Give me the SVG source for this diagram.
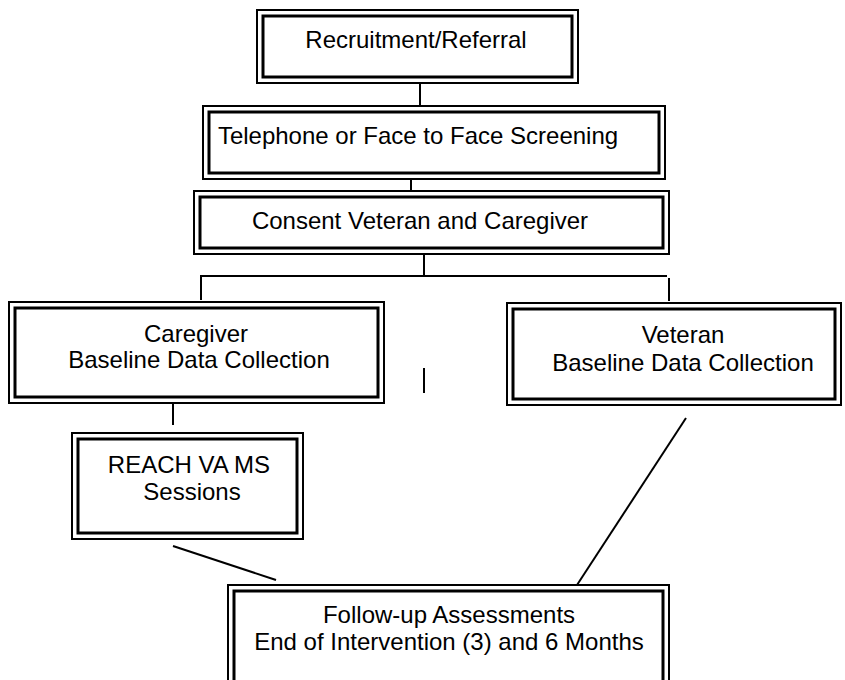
<svg xmlns="http://www.w3.org/2000/svg" width="845" height="680" viewBox="0 0 845 680">
  <style>
    .outer { fill: none; stroke: #000; stroke-width: 2; }
    .inner { fill: none; stroke: #000; stroke-width: 3; }
    .lbl { font-family: "Liberation Sans", Arial, sans-serif; font-size: 24px; fill: #000; text-anchor: middle; }
    .conn line { stroke: #000; stroke-width: 2; }
  </style>
  <rect width="845" height="680" fill="#fff"/>

  <g id="recruitment">
    <rect class="outer" x="257" y="10" width="321" height="73"/>
    <rect class="inner" x="263" y="16" width="309" height="61"/>
    <text class="lbl" x="416" y="48">Recruitment/Referral</text>
  </g>

  <g id="screening">
    <rect class="outer" x="203" y="106" width="462" height="73"/>
    <rect class="inner" x="209" y="112" width="450" height="61"/>
    <text class="lbl" x="418" y="144">Telephone or Face to Face Screening</text>
  </g>

  <g id="consent">
    <rect class="outer" x="194" y="191" width="475" height="63"/>
    <rect class="inner" x="200" y="197" width="463" height="51"/>
    <text class="lbl" x="420" y="229">Consent Veteran and Caregiver</text>
  </g>

  <g id="caregiver-baseline">
    <rect class="outer" x="9" y="302" width="375" height="101"/>
    <rect class="inner" x="15" y="308" width="363" height="89"/>
    <text class="lbl" x="196" y="342">Caregiver</text>
    <text class="lbl" x="199" y="368">Baseline Data Collection</text>
  </g>

  <g id="veteran-baseline">
    <rect class="outer" x="507" y="303" width="334" height="102"/>
    <rect class="inner" x="513" y="309" width="322" height="90"/>
    <text class="lbl" x="683" y="343">Veteran</text>
    <text class="lbl" x="683" y="371">Baseline Data Collection</text>
  </g>

  <g id="reach-sessions">
    <rect class="outer" x="72" y="433" width="231" height="106"/>
    <rect class="inner" x="78" y="439" width="219" height="94"/>
    <text class="lbl" x="189" y="473">REACH VA MS</text>
    <text class="lbl" x="192" y="500">Sessions</text>
  </g>

  <g id="follow-up">
    <rect class="outer" x="228" y="585" width="441" height="110"/>
    <rect class="inner" x="234" y="591" width="429" height="98"/>
    <text class="lbl" x="449" y="623">Follow-up Assessments</text>
    <text class="lbl" x="449" y="650">End of Intervention (3) and 6 Months</text>
  </g>

  <g id="connectors" class="conn">
    <line x1="420" y1="83" x2="420" y2="106"/>
    <line x1="411" y1="179" x2="411" y2="191"/>
    <line x1="424" y1="254" x2="424" y2="276"/>
    <line x1="200" y1="276" x2="667" y2="276"/>
    <line x1="201" y1="275" x2="201" y2="300"/>
    <line x1="669" y1="278" x2="669" y2="301"/>
    <line x1="424" y1="368" x2="424" y2="393"/>
    <line x1="173" y1="403" x2="173" y2="425"/>
    <line x1="173" y1="546" x2="276" y2="580"/>
    <line x1="686" y1="418" x2="577" y2="585"/>
  </g>
</svg>
